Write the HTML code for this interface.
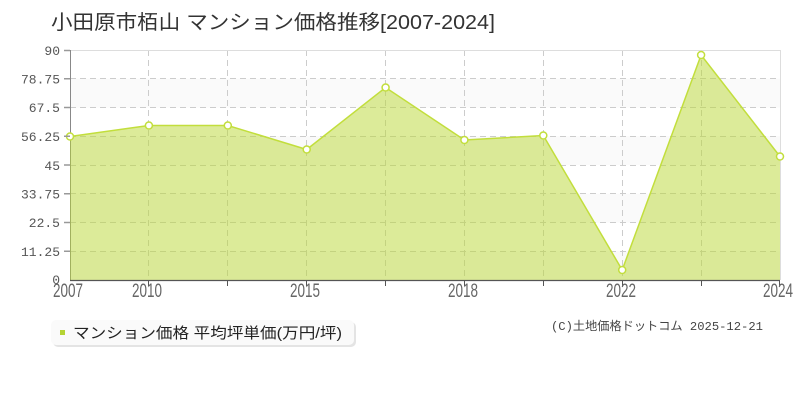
<!DOCTYPE html>
<html><head><meta charset="utf-8"><style>
html,body{margin:0;padding:0;background:#fff;}
svg{display:block;}
text{font-family:"Liberation Sans","Noto Sans CJK JP",sans-serif;}
.m, .m text{font-family:"Liberation Mono","Noto Sans CJK JP",monospace;}
</style></head><body>
<svg width="800" height="400" viewBox="0 0 800 400" xmlns="http://www.w3.org/2000/svg">
<rect width="800" height="400" fill="#fff"/>
<text x="51" y="29" font-size="20" fill="#333" textLength="444" lengthAdjust="spacingAndGlyphs">小田原市栢山 マンション価格推移[2007-2024]</text>
<!-- bands -->
<rect x="70" y="50" width="710" height="230" fill="#fff"/>
<rect x="70" y="78.75" width="710" height="28.75" fill="#fafafa"/>
<rect x="70" y="136.25" width="710" height="28.75" fill="#fafafa"/>
<rect x="70" y="193.75" width="710" height="28.75" fill="#fafafa"/>
<rect x="70" y="251.25" width="710" height="28.75" fill="#fafafa"/>
<!-- grid -->
<g stroke="#ccc" stroke-width="1" stroke-dasharray="6,4" fill="none">
<line x1="70" y1="78.5" x2="780" y2="78.5"/>
<line x1="70" y1="107.5" x2="780" y2="107.5"/>
<line x1="70" y1="136.5" x2="780" y2="136.5"/>
<line x1="70" y1="165.5" x2="780" y2="165.5"/>
<line x1="70" y1="193.5" x2="780" y2="193.5"/>
<line x1="70" y1="222.5" x2="780" y2="222.5"/>
<line x1="70" y1="251.5" x2="780" y2="251.5"/>
<line x1="148.5" y1="50" x2="148.5" y2="280"/>
<line x1="227.5" y1="50" x2="227.5" y2="280"/>
<line x1="306.5" y1="50" x2="306.5" y2="280"/>
<line x1="385.5" y1="50" x2="385.5" y2="280"/>
<line x1="464.5" y1="50" x2="464.5" y2="280"/>
<line x1="543.5" y1="50" x2="543.5" y2="280"/>
<line x1="622.5" y1="50" x2="622.5" y2="280"/>
<line x1="701.5" y1="50" x2="701.5" y2="280"/>
</g>
<!-- border -->
<line x1="70" y1="50.5" x2="780" y2="50.5" stroke="#ddd"/>
<line x1="780.5" y1="50" x2="780.5" y2="280" stroke="#ddd"/>
<line x1="70.5" y1="50" x2="70.5" y2="280" stroke="#888"/>
<!-- area -->
<polygon points="70,280 70,136.5 148.9,125.5 227.8,125.5 306.7,149.5 385.6,87.5 464.4,140 543.3,135.5 622.2,270 701.1,55 780,156.5 780,280" fill="#b9d834" fill-opacity="0.5"/>
<polyline points="70,136.5 148.9,125.5 227.8,125.5 306.7,149.5 385.6,87.5 464.4,140 543.3,135.5 622.2,270 701.1,55 780,156.5" fill="none" stroke="#c2de3c" stroke-width="1.5"/>
<g fill="#fff" stroke="#c2de3c" stroke-width="1.5">
<circle cx="70" cy="136.5" r="3.5"/>
<circle cx="148.9" cy="125.5" r="3.5"/>
<circle cx="227.8" cy="125.5" r="3.5"/>
<circle cx="306.7" cy="149.5" r="3.5"/>
<circle cx="385.6" cy="87.5" r="3.5"/>
<circle cx="464.4" cy="140" r="3.5"/>
<circle cx="543.3" cy="135.5" r="3.5"/>
<circle cx="622.2" cy="270" r="3.5"/>
<circle cx="701.1" cy="55" r="3.5"/>
<circle cx="780" cy="156.5" r="3.5"/>
</g>
<!-- axes -->
<line x1="70" y1="280.5" x2="780" y2="280.5" stroke="#555" stroke-width="1.2"/>
<g stroke="#999" stroke-width="1.5">
<line x1="64" y1="50.5" x2="70" y2="50.5"/>
<line x1="64" y1="78.75" x2="70" y2="78.75"/>
<line x1="64" y1="107.5" x2="70" y2="107.5"/>
<line x1="64" y1="136.25" x2="70" y2="136.25"/>
<line x1="64" y1="165" x2="70" y2="165"/>
<line x1="64" y1="193.75" x2="70" y2="193.75"/>
<line x1="64" y1="222.5" x2="70" y2="222.5"/>
<line x1="64" y1="251.25" x2="70" y2="251.25"/>
</g>
<g stroke="#555" stroke-width="1">
<line x1="148.5" y1="280" x2="148.5" y2="286"/>
<line x1="227.5" y1="280" x2="227.5" y2="286"/>
<line x1="306.5" y1="280" x2="306.5" y2="286"/>
<line x1="385.5" y1="280" x2="385.5" y2="286"/>
<line x1="464.5" y1="280" x2="464.5" y2="286"/>
<line x1="543.5" y1="280" x2="543.5" y2="286"/>
<line x1="622.5" y1="280" x2="622.5" y2="286"/>
<line x1="701.5" y1="280" x2="701.5" y2="286"/>
<line x1="779.5" y1="280" x2="779.5" y2="286"/>
</g>
<g font-size="13" fill="#555" text-anchor="end">
<text class="m" x="60" y="55">90</text>
<text class="m" x="60" y="83.5">78.75</text>
<text class="m" x="60" y="112">67.5</text>
<text class="m" x="60" y="141">56.25</text>
<text class="m" x="60" y="170">45</text>
<text class="m" x="60" y="198.5">33.75</text>
<text class="m" x="60" y="227">22.5</text>
<text class="m" x="60" y="256">11.25</text>
<text class="m" x="60" y="284">0</text>
</g>
<g font-size="19" fill="#666">
<text x="53" y="297" textLength="30" lengthAdjust="spacingAndGlyphs">2007</text>
<text x="132" y="297" textLength="30" lengthAdjust="spacingAndGlyphs">2010</text>
<text x="290" y="297" textLength="30" lengthAdjust="spacingAndGlyphs">2015</text>
<text x="448" y="297" textLength="30" lengthAdjust="spacingAndGlyphs">2018</text>
<text x="606" y="297" textLength="30" lengthAdjust="spacingAndGlyphs">2022</text>
<text x="763" y="297" textLength="30" lengthAdjust="spacingAndGlyphs">2024</text>
</g>
<!-- legend -->
<rect x="53" y="322" width="303" height="25" rx="5" fill="#e4e4e4"/>
<rect x="51" y="320" width="303" height="25" rx="5" fill="#fafafa"/>
<rect x="60" y="330" width="5" height="5" fill="#b5d334"/>
<text x="73" y="338" font-size="15" fill="#222" textLength="269" lengthAdjust="spacingAndGlyphs">マンション価格 平均坪単価(万円/坪)</text>
<!-- copyright -->
<text class="m" x="551" y="330" font-size="12" fill="#444" textLength="212" lengthAdjust="spacingAndGlyphs">(C)土地価格ドットコム 2025-12-21</text>
</svg>
</body></html>
